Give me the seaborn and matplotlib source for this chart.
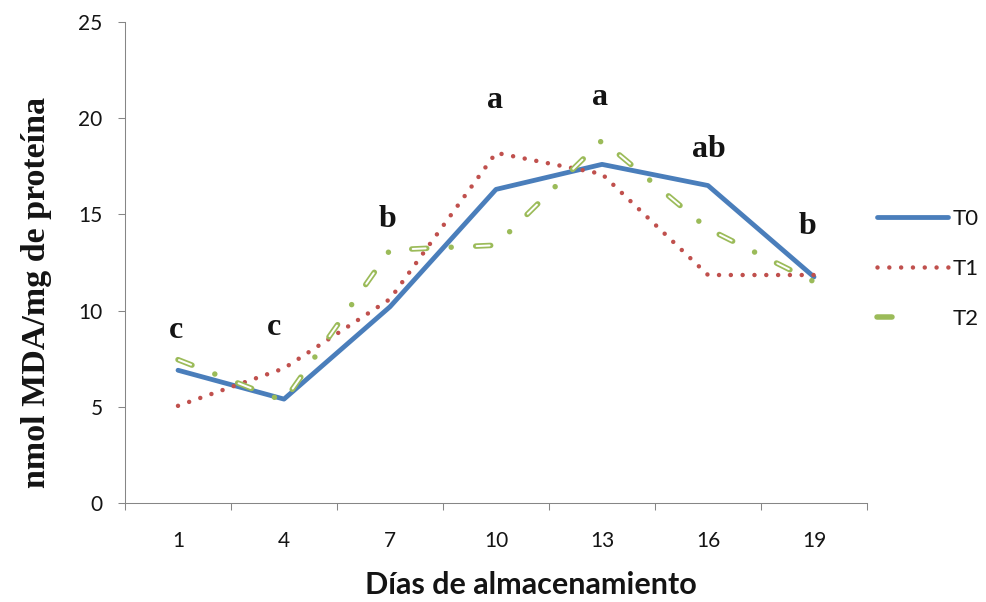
import matplotlib
matplotlib.use("Agg")
import matplotlib.pyplot as plt
import seaborn as sns
import pandas as pd
from matplotlib.lines import Line2D
from matplotlib.legend_handler import HandlerTuple
from matplotlib.ticker import FixedLocator

# Storage days (categories) and MDA values for each treatment
days = ["1", "4", "7", "10", "13", "16", "19"]
t0 = [6.9, 5.4, 10.2, 16.3, 17.6, 16.5, 11.75]
t1 = [5.05, 7.0, 10.6, 18.2, 17.1, 11.85, 11.85]
t2 = [7.45, 5.3, 13.15, 13.4, 18.85, 14.25, 11.5]
series_names = ["T0", "T1", "T2"]

# Significance letters and where they sit (category position, baseline value)
letters = ["c", "c", "b", "a", "a", "ab", "b"]
letter_x = [-0.02, 0.91, 1.98, 2.99, 3.98, 5.01, 5.94]
letter_y = [8.58, 8.73, 14.35, 20.53, 20.69, 17.98, 13.98]

y_ticks = [0, 5, 10, 15, 20, 25]

sns.set_theme(style="white")
plt.rcParams["lines.scale_dashes"] = False
plt.rcParams["font.family"] = ["Lato", "DejaVu Sans"]

PX = 0.72  # one pixel in points at 100 dpi
BLUE, RED, GREEN = "#4A7EBB", "#C0504D", "#9BBB59"
AXIS_GREY = "#868686"
TEXT = "#141414"

fig = plt.figure(figsize=(9.86, 6.02), dpi=100)
ax = fig.add_axes([125 / 986, 1 - 503 / 602, 742 / 986, 481 / 602])

df = pd.DataFrame({"day": days, "T0": t0, "T1": t1, "T2": t2})

# Line styles
t0_style = dict(color=BLUE, lw=4.8 * PX, solid_joinstyle="round", solid_capstyle="round")
t1_style = dict(color=RED, lw=4.5 * PX, linestyle=(0, (0.01, 11.8 * PX)),
                dash_capstyle="round")
t2_outer = dict(color=GREEN, lw=5.5 * PX,
                linestyle=(0, (15 * PX, 24.5 * PX, 0.01, 24.5 * PX)),
                dash_capstyle="round", dash_joinstyle="round")
t2_inner = dict(color="white", lw=2.0 * PX,
                linestyle=(63 * PX, (13 * PX, 51 * PX)),
                dash_capstyle="round", dash_joinstyle="round")

sns.lineplot(data=df, x="day", y="T0", ax=ax, sort=False, errorbar=None, **t0_style)
sns.lineplot(data=df, x="day", y="T1", ax=ax, sort=False, errorbar=None, **t1_style)
sns.lineplot(data=df, x="day", y="T2", ax=ax, sort=False, errorbar=None, **t2_outer)
sns.lineplot(data=df, x="day", y="T2", ax=ax, sort=False, errorbar=None, **t2_inner)

ax.set_xlim(-0.5, len(days) - 0.5)
ax.set_ylim(0, 25)
ax.set_yticks(y_ticks)
ax.set_yticklabels([str(v) for v in y_ticks])

# Category ticks sit between the groups; labels centred on each group
ax.set_xticks(range(len(days)))
ax.set_xticklabels(days)
ax.xaxis.set_minor_locator(FixedLocator([i - 0.5 for i in range(len(days) + 1)]))
ax.tick_params(axis="x", which="major", bottom=True, length=0, pad=20.5,
               labelsize=15, labelcolor=TEXT)
ax.tick_params(axis="x", which="minor", bottom=True, length=7 * PX,
               width=0.75, color=AXIS_GREY, direction="out")
ax.tick_params(axis="y", which="major", left=True, length=7 * PX, width=0.75,
               color=AXIS_GREY, direction="out", pad=11, labelsize=15,
               labelcolor=TEXT)

for side in ("top", "right"):
    ax.spines[side].set_visible(False)
for side in ("left", "bottom"):
    ax.spines[side].set_color(AXIS_GREY)
    ax.spines[side].set_linewidth(0.75)
ax.grid(False)

# Axis titles
ax.set_ylabel("nmol MDA/mg de proteína", family=["Liberation Serif"],
              fontweight="bold", fontsize=24.5, color=TEXT)
ax.yaxis.label.set_va("center")
ax.yaxis.set_label_coords(-0.1186, 0.4387)
ax.set_xlabel("Días de almacenamiento", fontweight="bold", fontsize=22, color=TEXT)
ax.xaxis.label.set_va("center")
ax.xaxis.set_label_coords(0.547, -0.1715)

# Significance letters
for txt, xp, yp in zip(letters, letter_x, letter_y):
    ax.text(xp, yp, txt, ha="center", va="baseline", family=["Liberation Serif"],
            fontweight="bold", fontsize=23, color=TEXT)

# Legend
h0 = Line2D([], [], **t0_style)
h1 = Line2D([], [], **t1_style)
h2 = (Line2D([], [], **t2_outer), Line2D([], [], **t2_inner))
fig.legend([h0, h1, h2], series_names, loc="center left",
           bbox_to_anchor=(877 / 986, 1 - 269 / 602), frameon=False,
           borderpad=0, borderaxespad=0, handlelength=71 * PX / 16,
           handletextpad=5 * PX / 16, labelspacing=1.35, fontsize=16,
           labelcolor=TEXT, handler_map={tuple: HandlerTuple(ndivide=None)})

fig.savefig("out.png", dpi=100)
